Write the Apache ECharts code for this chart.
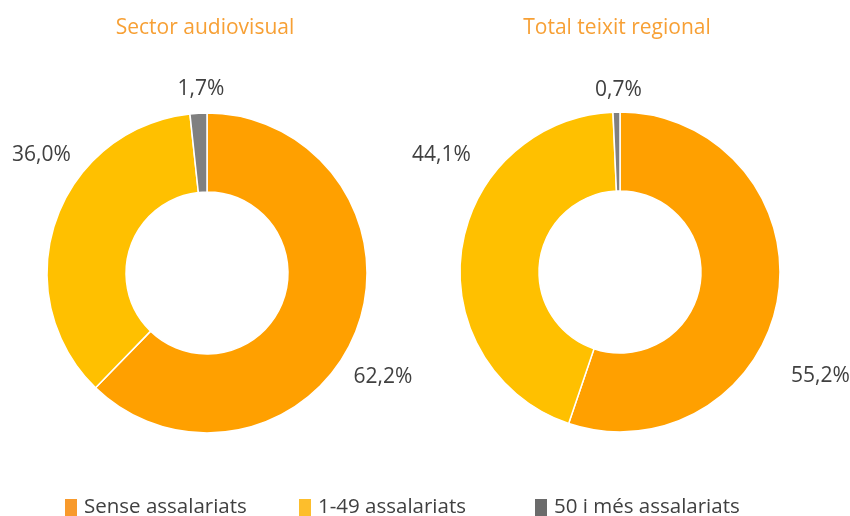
<!DOCTYPE html>
<html><head><meta charset="utf-8">
<script src="https://cdn.jsdelivr.net/npm/echarts@6/dist/echarts.min.js"></script>
<style>html,body{margin:0;padding:0;background:#fff}#c{width:850px;height:516px}</style>
</head><body><div id="c"></div>
<script>
const categories = ['Sense assalariats', '1-49 assalariats', '50 i més assalariats'];
const titles = ['Sector audiovisual', 'Total teixit regional'];
const audiovisualValues = [62.2, 36.0, 1.7];
const regionalValues = [55.2, 44.1, 0.7];

const sliceColors = ['#FFA000', '#FFC000', '#808080'];
const legendColors = ['#F89A2C', '#FDBE2C', '#6B6B6B'];
const centers = [[207, 273], [620, 272]];
const titleX = [200, 612];
const legendX = [63, 297, 533];
// label placement offsets from pie centre (layout style)
const labelOffsets = [
  [[176, 104], [-165.5, -118], [-6, -183.5]],
  [[200.5, 104], [-178.5, -117], [-1.5, -181.5]]
];
const FONT = '"Open Sans", "Noto Sans", sans-serif';

function fmt(v) { return v.toFixed(1).replace('.', ',') + '%'; }

function makeSeries(values, idx) {
  return {
    type: 'pie',
    center: centers[idx],
    radius: [81, 160],
    startAngle: 90,
    clockwise: true,
    avoidLabelOverlap: false,
    animation: false,
    emphasis: { disabled: true },
    itemStyle: { borderColor: '#fff', borderWidth: 1.5 },
    label: {
      show: true, position: 'outside',
      formatter: p => fmt(p.value),
      fontFamily: FONT, fontSize: 21, color: '#404040'
    },
    labelLine: { show: false },
    labelLayout: function (params) {
      const o = labelOffsets[idx][params.dataIndex];
      return { x: centers[idx][0] + o[0], y: centers[idx][1] + o[1], align: 'center', verticalAlign: 'middle' };
    },
    data: categories.map((name, i) => ({ name: name, value: values[i], itemStyle: { color: sliceColors[i] } }))
  };
}

const chart = echarts.init(document.getElementById('c'), null, { renderer: 'canvas' });
chart.setOption({
  backgroundColor: '#fff',
  animation: false,
  title: titles.map((t, i) => ({
    text: t, left: titleX[i], top: 13, textAlign: 'center',
    textStyle: { fontFamily: FONT, fontSize: 21, fontWeight: 'normal', color: '#F7A035' }
  })),
  legend: categories.map((name, i) => ({
    left: legendX[i], top: 497, padding: 0,
    itemWidth: 14, itemHeight: 19,
    icon: 'rect',
    selectedMode: false,
    textStyle: { fontFamily: FONT, fontSize: 20.5, color: '#404040', padding: [0, 0, 0, 1] },
    data: [{ name: name, itemStyle: { color: legendColors[i] } }]
  })),
  series: [makeSeries(audiovisualValues, 0), makeSeries(regionalValues, 1)]
});
</script>
</body></html>
